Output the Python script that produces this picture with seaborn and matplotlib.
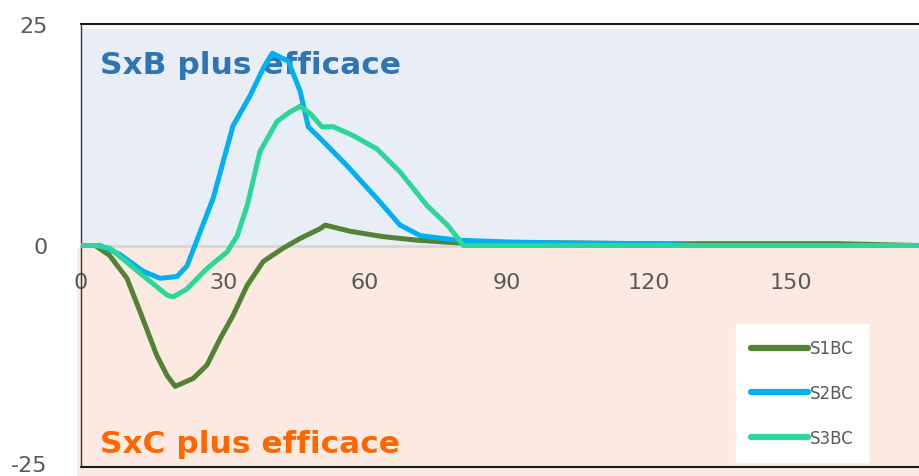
import matplotlib
matplotlib.use("Agg")
import matplotlib.pyplot as plt
from matplotlib.patches import Rectangle
import matplotlib.transforms as mtransforms
import seaborn as sns
import pandas as pd

# Series readings (time, score difference)
s1_x = [0, 3, 6, 9.7, 12.5, 16, 18.2, 19.9, 23.7, 26.6, 29.4, 32.1, 35.1, 38.5, 42.7, 46.3,
        50.5, 51.6, 56.9, 63.8, 71, 79.5, 90, 100, 120, 140, 160, 177]
s1_y = [0, 0, -1.1, -3.7, -7.5, -12.4, -14.7, -15.9, -15.0, -13.5, -10.5, -7.9, -4.5, -1.8, -0.3, 0.8,
        1.9, 2.3, 1.6, 1.0, 0.6, 0.3, 0.3, 0.3, 0.2, 0.2, 0.2, 0.0]

s2_x = [0, 4, 8.2, 13.1, 16.7, 20.3, 22.4, 24.2, 27.9, 32.1, 35.7, 38.5, 40.4, 43.8, 46.3, 48.0,
        50.5, 56.2, 62.5, 67.4, 71.7, 79.5, 90, 100, 120, 130, 177]
s2_y = [0, 0, -1.0, -2.9, -3.7, -3.5, -2.3, 0.2, 5.3, 13.5, 16.9, 20.0, 21.7, 20.8, 17.4, 13.4,
        12.1, 9.0, 5.3, 2.3, 1.1, 0.6, 0.4, 0.3, 0.2, 0.0, 0.0]

s3_x = [0, 3, 6.1, 13.1, 18.2, 19.5, 22.4, 26.6, 30.9, 33, 35.1, 37.8, 41.4, 44.2, 46.3, 48.4,
        50.9, 53.3, 57.5, 62.5, 67.4, 73.1, 77.4, 80.8, 100, 177]
s3_y = [0, 0, -0.3, -3.4, -5.6, -5.8, -4.9, -2.6, -0.7, 1.1, 4.5, 10.6, 14.0, 15.1, 15.7, 14.9,
        13.4, 13.4, 12.4, 10.9, 8.3, 4.5, 2.3, 0.0, 0.0, 0.0]

series_names = ["S1BC", "S2BC", "S3BC"]
series_colors = ["#548235", "#00B0F0", "#2BD69A"]
x_ticks = [0, 30, 60, 90, 120, 150]
y_ticks = [-25, 0, 25]

df = pd.concat([
    pd.DataFrame({"t": s1_x, "v": s1_y, "serie": series_names[0]}),
    pd.DataFrame({"t": s2_x, "v": s2_y, "serie": series_names[1]}),
    pd.DataFrame({"t": s3_x, "v": s3_y, "serie": series_names[2]}),
])

sns.set_theme(style="white")
plt.rcParams["font.family"] = ["DejaVu Sans"]

fig = plt.figure(figsize=(9.19, 4.77), dpi=100)
ax = fig.add_axes([81 / 919, 1 - 468 / 477, 1 - 81 / 919, (468 - 25) / 477])

# Shaded halves
ax.axhspan(0, 24.4, color="#E9EDF5", zorder=0, lw=0)
ax.axhspan(-25, -0.2, color="#FCE9E2", zorder=0, lw=0)
fig.add_artist(Rectangle((77 / 919, 0), 5 / 919, (477 - 249) / 477,
                         transform=fig.transFigure, color="#FCE9E2", lw=0, zorder=0))
fig.add_artist(Rectangle((77 / 919, 0), 1, 9 / 477,
                         transform=fig.transFigure, color="#FCE9E2", lw=0, zorder=0))

sns.lineplot(data=df, x="t", y="v", hue="serie", palette=series_colors,
             hue_order=series_names, estimator=None, sort=True, lw=3.6,
             ax=ax, zorder=3)

ax.set_xlim(0, 177)
ax.set_ylim(-25, 25)
ax.set_xlabel("")
ax.set_ylabel("")

# Axis through zero carries the x tick labels
ax.spines["bottom"].set_position(("data", 0))
ax.spines["bottom"].set_color("#D4D4D4")
ax.spines["bottom"].set_linewidth(1.8)
ax.spines["bottom"].set_zorder(1)
ax.spines["right"].set_visible(False)
ax.spines["top"].set_color("#1a1a1a")
ax.spines["top"].set_linewidth(1.5)
ax.spines["left"].set_color("#333333")
ax.spines["left"].set_linewidth(1.0)
ax.axhline(-25, color="#1a1a1a", lw=1.5, clip_on=False, zorder=4)

ax.set_xticks(x_ticks)
ax.set_xticklabels([str(v) for v in x_ticks])
ax.set_yticks(y_ticks)
ax.set_yticklabels([str(v) for v in y_ticks])
ax.tick_params(axis="x", length=0, pad=19, labelsize=16, labelcolor="#595959")
ax.tick_params(axis="y", length=0, pad=24, labelsize=16, labelcolor="#595959")
for lab in ax.get_xticklabels():
    lab.set_zorder(5)
# keep the lowest y label inside the canvas
low = ax.get_yticklabels()[0]
low.set_transform(low.get_transform() +
                  mtransforms.ScaledTranslation(0, 4 / 100, fig.dpi_scale_trans))

px_per_unit = 839 / 177
ax.text((100 - 81) / px_per_unit, 20.4, "SxB plus efficace", color="#2E75B6",
        fontsize=22.5, fontweight="bold", ha="left", va="center", zorder=2)
ax.text((100 - 81) / px_per_unit, -22.3, "SxC plus efficace", color="#FF6600",
        fontsize=22.5, fontweight="bold", ha="left", va="center", zorder=2)

leg = ax.legend(loc="lower left", bbox_to_anchor=(0.772, -0.007), frameon=True,
                fontsize=12, handlelength=3.4, handletextpad=0.1,
                labelspacing=1.6, borderpad=0.9, fancybox=False)
leg.get_frame().set_facecolor("white")
leg.get_frame().set_edgecolor("white")
leg.get_frame().set_alpha(1)
for h in leg.get_lines():
    h.set_linewidth(4.5)
    h.set_solid_capstyle("round")
for t in leg.get_texts():
    t.set_color("#595959")
leg.set_zorder(6)

fig.savefig("out.png", dpi=100)
